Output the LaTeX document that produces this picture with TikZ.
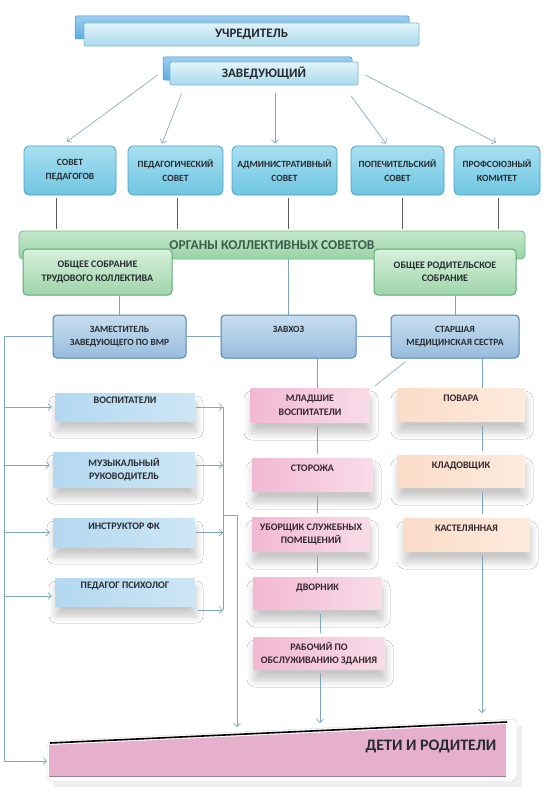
\documentclass[tikz,border=0pt]{standalone}
\usepackage{fontspec}
\setmainfont{Carlito}
\usetikzlibrary{arrows.meta,shadows,shadows.blur,calc}
\definecolor{topb}{HTML}{5AADE2}
\definecolor{topbd}{HTML}{3D8FC8}
\definecolor{topfa}{HTML}{E2F4FA}
\definecolor{topfb}{HTML}{A9D9EC}
\definecolor{topfd}{HTML}{7FB6CC}
\definecolor{coua}{HTML}{A8DFF0}
\definecolor{coub}{HTML}{6FC6E2}
\definecolor{coud}{HTML}{4AA3C6}
\definecolor{banda}{HTML}{C4E8CB}
\definecolor{bandb}{HTML}{98D3A6}
\definecolor{bandd}{HTML}{74BC86}
\definecolor{bandt}{HTML}{3A5E4A}
\definecolor{grna}{HTML}{D6F0DB}
\definecolor{grnb}{HTML}{9FD5AA}
\definecolor{grnd}{HTML}{5FA873}
\definecolor{rowa}{HTML}{C8DEF0}
\definecolor{rowb}{HTML}{97BCDD}
\definecolor{rowd}{HTML}{4C84B2}
\definecolor{lba}{HTML}{B3D8F0}
\definecolor{lbb}{HTML}{CDE6F5}
\definecolor{pka}{HTML}{F2B8D2}
\definecolor{pkb}{HTML}{F9DCE8}
\definecolor{pca}{HTML}{FBDCC8}
\definecolor{pcb}{HTML}{FDEBDD}
\definecolor{deticol}{HTML}{E6B0CC}
\definecolor{connc}{HTML}{7EA5BC}
\definecolor{darkl}{HTML}{5A5A5A}
\definecolor{txtd}{HTML}{262B30}
\definecolor{txtp}{HTML}{33282E}
\begin{document}
\begin{tikzpicture}[x=1pt,y=-1pt,
  every node/.style={font=\bfseries\fontsize{10}{13.5}\selectfont, align=center, inner sep=1pt, text=txtd},
  conn/.style={draw=connc, line width=0.6pt},
  arr/.style={conn, -{Straight Barb[length=3.5pt,width=7pt]}},
  dline/.style={draw=darkl, line width=0.6pt},
  gap/.style={shorten <=4pt, shorten >=4pt},
  shadowed/.style={blur shadow={shadow xshift=1pt, shadow yshift=-10pt, shadow blur radius=7pt, shadow opacity=22, shadow blur steps=10}},
  topback/.style={rectangle, rounded corners=2pt, top color=topb!60!white, bottom color=topb, draw=topbd, line width=0.5pt},
  topfront/.style={rectangle, rounded corners=2pt, top color=topfa, bottom color=topfb, draw=topfd, line width=0.7pt, font=\bfseries\fontsize{13}{15}\selectfont},
  council/.style={rectangle, rounded corners=5pt, top color=coua, bottom color=coub, draw=coud, line width=0.8pt, minimum height=49pt, font=\bfseries\fontsize{9.5}{14}\selectfont},
  bandbox/.style={rectangle, rounded corners=4pt, top color=banda, bottom color=bandb, draw=bandd, line width=0.8pt, text=bandt, font=\bfseries\fontsize{13.5}{15}\selectfont},
  greenbox/.style={rectangle, rounded corners=4pt, top color=grna, bottom color=grnb, draw=grnd, line width=1pt, minimum height=46pt},
  rowbox/.style={rectangle, rounded corners=4pt, top color=rowa, bottom color=rowb, draw=rowd, line width=1pt, minimum height=43pt, font=\bfseries\fontsize{9.5}{13.5}\selectfont},
  leftbox/.style={rectangle, left color=lba, right color=lbb, shadowed},
  pinkbox/.style={rectangle, rounded corners=1pt, left color=pka, right color=pkb, text=txtp, shadowed},
  peachbox/.style={rectangle, rounded corners=1pt, left color=pca, right color=pcb, text=txtp, shadowed}
]
\useasboundingbox (0,0) rectangle (550,800);
\fill[white] (0,0) rectangle (550,800);

% top
\node[topback, minimum width=334pt, minimum height=23pt] (uchB) at (242,27.5) {};
\node[topfront, minimum width=335pt, minimum height=23pt] (uch) at (251.5,34.5) {УЧРЕДИТЕЛЬ};
\node[topback, minimum width=189pt, minimum height=23pt] (zavB) at (257.5,68.5) {};
\node[topfront, minimum width=188pt, minimum height=23pt] (zav) at (264,73.5) {ЗАВЕДУЮЩИЙ};

% councils
\node[council, minimum width=92pt] (c1) at (70,170.5) {СОВЕТ\\ПЕДАГОГОВ};
\node[council, minimum width=95pt] (c2) at (175.5,170.5) {ПЕДАГОГИЧЕСКИЙ\\СОВЕТ};
\node[council, minimum width=105pt] (c3) at (284.5,170.5) {АДМИНИСТРАТИВНЫЙ\\СОВЕТ};
\node[council, minimum width=93pt] (c4) at (397.5,170.5) {ПОПЕЧИТЕЛЬСКИЙ\\СОВЕТ};
\node[council, minimum width=86pt] (c5) at (497,170.5) {ПРОФСОЮЗНЫЙ\\КОМИТЕТ};

\draw[arr] ([xshift=-12pt,yshift=-1.5pt]zav.west) -- ([xshift=-3pt,yshift=4pt]c1.north);
\draw[arr] ([xshift=12pt,yshift=-8pt]zav.south west) -- ([xshift=-13.5pt,yshift=2pt]c2.north);
\draw[arr] ([xshift=11pt,yshift=-8pt]zav.south) -- ([xshift=-9.5pt,yshift=2pt]c3.north);
\draw[arr] ([xshift=-7pt,yshift=-11pt]zav.south east) -- ([xshift=-11.5pt,yshift=2pt]c4.north);
\draw[arr] ([xshift=7pt,yshift=-1.5pt]zav.east) -- ([xshift=-1pt,yshift=3pt]c5.north);

% band
\node[bandbox, minimum width=506pt, minimum height=28pt] (band) at (272,245) {ОРГАНЫ КОЛЛЕКТИВНЫХ СОВЕТОВ};
\foreach \c/\dx in {c1/-14,c2/1.5,c3/3.5,c4/4.5,c5/1}{
  \coordinate (ct) at ([xshift=\dx pt,yshift=-3pt]\c.south);
  \draw[dline, shorten >=2pt] (ct) -- (ct |- band.north);
}
\node[greenbox, minimum width=149pt] (sgL) at (97.5,272) {ОБЩЕЕ СОБРАНИЕ\\ТРУДОВОГО КОЛЛЕКТИВА};
\node[greenbox, minimum width=142pt] (sgR) at (445,272) {ОБЩЕЕ РОДИТЕЛЬСКОЕ\\СОБРАНИЕ};

% row 3
\node[rowbox, minimum width=133pt] (zam) at (119.5,336.5) {ЗАМЕСТИТЕЛЬ\\ЗАВЕДУЮЩЕГО ПО ВМР};
\node[rowbox, minimum width=135pt] (zavh) at (288.5,336.5) {ЗАВХОЗ\\\phantom{Ж}};
\node[rowbox, minimum width=128pt] (star) at (455,336.5) {СТАРШАЯ\\МЕДИЦИНСКАЯ СЕСТРА};
\draw[conn] (zam.north) -- (zam.north |- sgL.south);
\draw[conn] (zavh.north) -- (zavh.north |- band.south);
\draw[conn] (star.north) -- (star.north |- sgR.south);
\draw[conn] (zam.east) -- (zavh.west);
\draw[conn] (zavh.east) -- (star.west);

% left column
\node[leftbox, minimum width=140pt, minimum height=28pt] (vosp) at (125,407) {ВОСПИТАТЕЛИ\\\phantom{Ж}};
\node[leftbox, minimum width=142pt, minimum height=35pt] (muz) at (124,469.5) {МУЗЫКАЛЬНЫЙ\\РУКОВОДИТЕЛЬ};
\node[leftbox, minimum width=142pt, minimum height=29pt] (instr) at (124,532.5) {ИНСТРУКТОР ФК\\\phantom{Ж}};
\node[leftbox, minimum width=140pt, minimum height=28pt] (pedps) at (125,592) {ПЕДАГОГ ПСИХОЛОГ\\\phantom{Ж}};

% middle column
\node[pinkbox, minimum width=120pt, minimum height=35pt] (mlad) at (310,405.5) {МЛАДШИЕ\\ВОСПИТАТЕЛИ};
\node[pinkbox, minimum width=121pt, minimum height=34pt] (stor) at (312.5,475) {СТОРОЖА\\\phantom{Ж}};
\node[pinkbox, minimum width=118pt, minimum height=35pt] (ubor) at (311,534.5) {УБОРЩИК СЛУЖЕБНЫХ\\ПОМЕЩЕНИЙ};
\node[pinkbox, minimum width=129pt, minimum height=33pt] (dvor) at (317.5,593.5) {ДВОРНИК\\\phantom{Ж}};
\node[pinkbox, minimum width=132pt, minimum height=33pt] (rab) at (319,653.5) {РАБОЧИЙ ПО\\ОБСЛУЖИВАНИЮ ЗДАНИЯ};

% right column
\node[peachbox, minimum width=128pt, minimum height=34pt] (pov) at (461,405) {ПОВАРА\\\phantom{Ж}};
\node[peachbox, minimum width=128pt, minimum height=33pt] (klad) at (461,471.5) {КЛАДОВЩИК\\\phantom{Ж}};
\node[peachbox, minimum width=127pt, minimum height=34pt] (kast) at (466.5,535) {КАСТЕЛЯННАЯ\\\phantom{Ж}};

% bottom shape
\fill[black!20, opacity=0.3] (53,748) -- (522,726) -- (522,787) -- (53,787) -- cycle;
\filldraw[fill=white, draw=black!15, rounded corners=5pt] (47,741) -- (517,719) -- (517,781) -- (47,781) -- cycle;
\fill[deticol] (49,745) -- (506,724) -- (506,776) -- (49,776) -- cycle;
\draw[black, line width=1.6pt] (50,743) -- (507,722);
\draw[deticol!70!black, line width=0.4pt] (49,776) -- (506,776);
\node[font=\bfseries\fontsize{16}{18}\selectfont, text=txtd] (deti) at (431,746) {ДЕТИ И РОДИТЕЛИ};
\coordinate (dL) at (47,761);
\coordinate (dA) at (237,727);
\coordinate (dB) at (320,723);
\coordinate (dC) at (482,713);
\coordinate (lcorner) at (4,761);
\coordinate (rx) at (223,0);
\coordinate (px) at (317,0);
\coordinate (pxb) at (320,0);
\coordinate (qx) at (482,0);

% left connectors
\draw[arr] (zam.west) -| (lcorner) -- (dL);
\draw[arr] (vosp.west -| lcorner) -- ([xshift=-3pt]vosp.west);
\draw[arr] ([yshift=4.5pt]muz.west -| lcorner) -- ([xshift=-3pt,yshift=4.5pt]muz.west);
\draw[arr] (instr.west -| lcorner) -- ([xshift=-3pt]instr.west);
\draw[arr] ([yshift=-4pt]pedps.west -| lcorner) -- ([xshift=-3pt,yshift=-4pt]pedps.west);

\draw[arr] ([xshift=1pt]vosp.east) -- (vosp.east -| rx);
\draw[arr] ([xshift=1pt,yshift=4.5pt]muz.east) -- ([yshift=4.5pt]muz.east -| rx);
\draw[arr] ([xshift=1pt]instr.east) -- (instr.east -| rx);
\coordinate (pedR) at ([xshift=3pt,yshift=-18pt]pedps.east);
\draw[arr] (pedR) -- (pedR -| rx);
\draw[conn] (vosp.east -| rx) -- (pedR -| rx);
\coordinate (br) at (223,515);
\draw[arr] (br) -| (dA);

% middle connectors
\draw[conn] (zavh.south -| px) -- (mlad.north -| px);
\draw[conn, gap] (mlad.south -| px) -- (stor.north -| px);
\draw[conn, gap] (stor.south -| px) -- (ubor.north -| px);
\draw[conn, gap] (ubor.south -| px) -- (dvor.north -| px);
\draw[conn, gap] (dvor.south -| pxb) -- (rab.north -| pxb);
\draw[arr, shorten <=3pt] (rab.south -| pxb) -- (dB);
\draw[conn] ([xshift=15pt,yshift=-3pt]star.south west) -- ([xshift=5pt,yshift=2pt]mlad.north east);

% right connectors
\draw[conn] (star.south -| qx) -- (pov.north -| qx);
\draw[conn, gap] (pov.south -| qx) -- (klad.north -| qx);
\draw[conn, gap] (klad.south -| qx) -- (kast.north -| qx);
\draw[arr, shorten <=3pt] (kast.south -| qx) -- (dC);
\end{tikzpicture}
\end{document}
